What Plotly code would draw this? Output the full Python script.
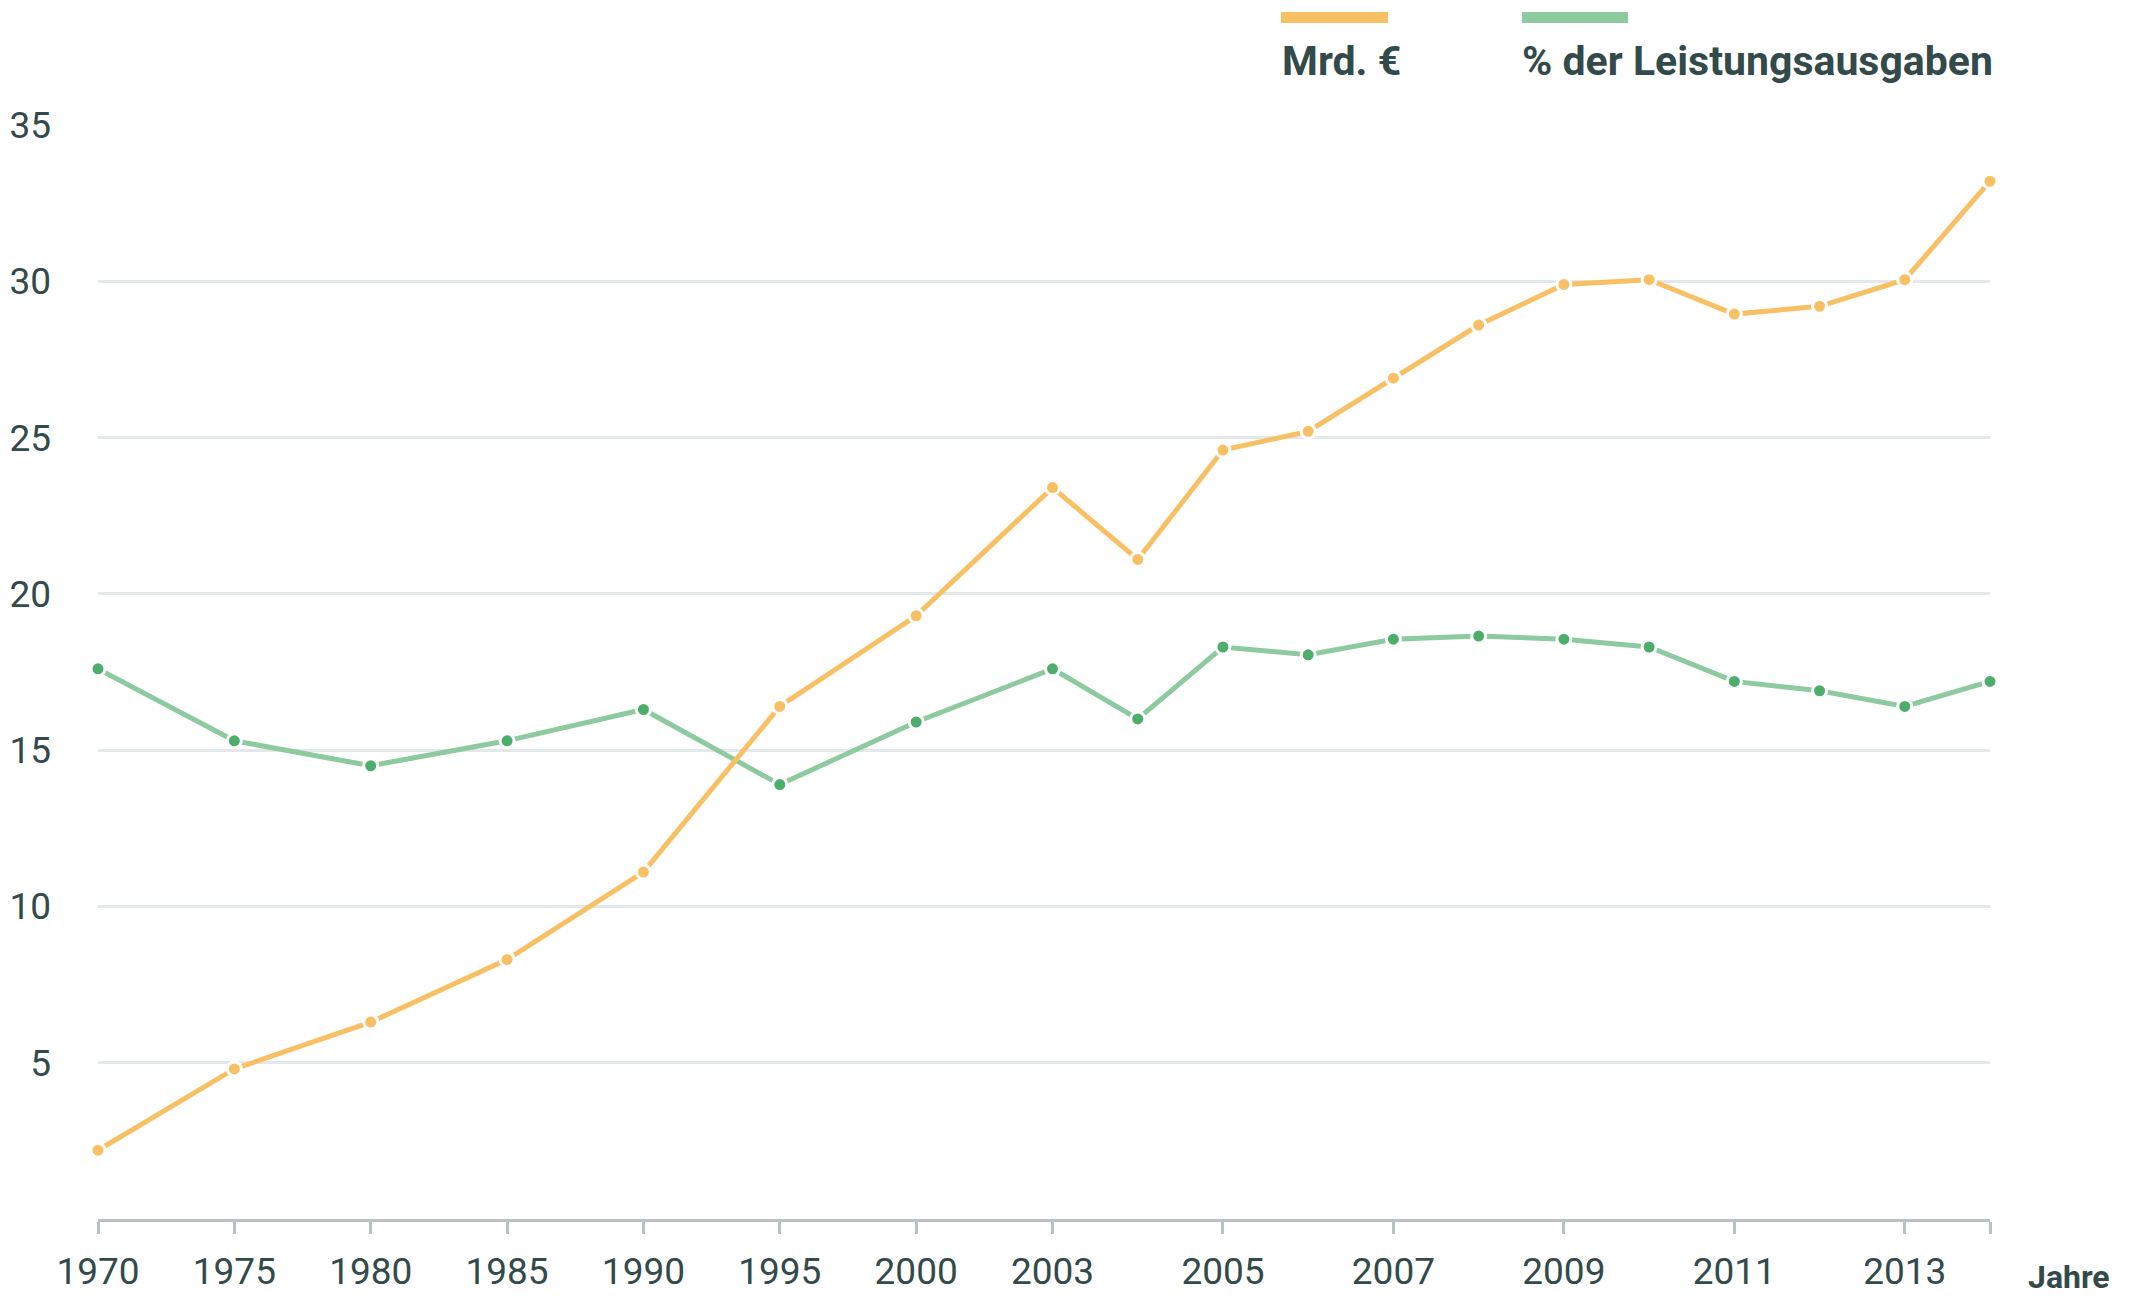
import plotly.graph_objects as go

years = [1970, 1975, 1980, 1985, 1990, 1995, 2000, 2003, 2004, 2005, 2006,
         2007, 2008, 2009, 2010, 2011, 2012, 2013, 2014]
mrd_eur = [2.2, 4.8, 6.3, 8.3, 11.1, 16.4, 19.3, 23.4, 21.1, 24.6, 25.2,
           26.9, 28.6, 29.9, 30.05, 28.95, 29.2, 30.05, 33.2]
pct_leistung = [17.6, 15.3, 14.5, 15.3, 16.3, 13.9, 15.9, 17.6, 16.0, 18.3, 18.05,
                18.55, 18.65, 18.55, 18.3, 17.2, 16.9, 16.4, 17.2]
tick_years = [1970, 1975, 1980, 1985, 1990, 1995, 2000, 2003, 2005, 2007, 2009, 2011, 2013, 2014]
tick_labels = ["1970", "1975", "1980", "1985", "1990", "1995", "2000", "2003",
               "2005", "2007", "2009", "2011", "2013", ""]
y_ticks = [5, 10, 15, 20, 25, 30, 35]

# x layout: multi-year steps (up to 2003) drawn wider than single-year steps
pos = [0.0]
for i in range(1, len(years)):
    gap = 1.6 if years[i] <= 2003 else 1.0
    pos.append(pos[-1] + gap)
year_pos = dict(zip(years, pos))

W, H = 2137, 1301
L, R, T, B = 98, 147, 125, 82
def px(x):
    return (x - L) / (W - L - R)
def py(y):
    return 1 - (y - T) / (H - T - B)

ORANGE = "#F7C064"
GREEN_L = "#8DCAA0"
GREEN_M = "#4DAE6C"
TXT = "#334A4B"
AXIS = "#B8C2C2"

fig = go.Figure()
fig.add_trace(go.Scatter(
    x=pos, y=pct_leistung, mode="lines+markers",
    line=dict(color=GREEN_L, width=5),
    marker=dict(color=GREEN_M, size=14, line=dict(color="white", width=3)),
    cliponaxis=False, showlegend=False))
fig.add_trace(go.Scatter(
    x=pos, y=mrd_eur, mode="lines+markers",
    line=dict(color=ORANGE, width=5),
    marker=dict(color=ORANGE, size=14, line=dict(color="white", width=3)),
    cliponaxis=False, showlegend=False))

fig.update_layout(
    width=W, height=H,
    margin=dict(l=L, r=R, t=T, b=B, pad=0),
    paper_bgcolor="white", plot_bgcolor="white",
    font=dict(family="Roboto", color=TXT, size=37),
    xaxis=dict(range=[0, pos[-1]], tickvals=[year_pos[y] for y in tick_years],
               ticktext=tick_labels, showgrid=False, zeroline=False,
               showline=True, linecolor=AXIS, linewidth=3,
               ticks="outside", ticklen=12, tickwidth=3, tickcolor=AXIS,
               ticklabelstandoff=6, automargin=False,
               tickfont=dict(size=37, color=TXT)),
    yaxis=dict(range=[0, 35], tickvals=y_ticks, showgrid=True,
               gridcolor="#E3E8E8", gridwidth=3, zeroline=False, showline=False,
               ticks="", ticklabelstandoff=46, automargin=False,
               tickfont=dict(size=37, color=TXT)),
)

# legend drawn above the plot
fig.add_shape(type="rect", xref="paper", yref="paper",
              x0=px(1281), x1=px(1388), y0=py(23), y1=py(12),
              fillcolor=ORANGE, line=dict(width=0))
fig.add_shape(type="rect", xref="paper", yref="paper",
              x0=px(1522), x1=px(1628), y0=py(23), y1=py(12),
              fillcolor=GREEN_L, line=dict(width=0))
fig.add_annotation(text="<b>Mrd. €</b>", xref="paper", yref="paper",
                   x=px(1280), y=py(61), xanchor="left", yanchor="middle",
                   showarrow=False, font=dict(size=41, color=TXT))
fig.add_annotation(text="<b>% der Leistungsausgaben</b>", xref="paper", yref="paper",
                   x=px(1520), y=py(61), xanchor="left", yanchor="middle",
                   showarrow=False, font=dict(size=41, color=TXT))
fig.add_annotation(text="<b>Jahre</b>", xref="paper", yref="paper",
                   x=px(2112), y=py(1277), xanchor="right", yanchor="middle",
                   showarrow=False, font=dict(size=32, color=TXT))

fig.write_html("out.html", config={"displayModeBar": False},
               post_script="document.body.style.margin='0';document.body.style.overflow='hidden';")
